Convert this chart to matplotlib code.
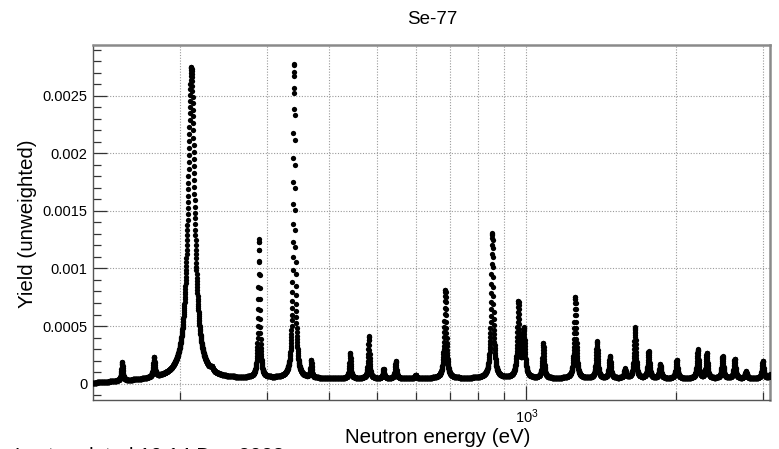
import numpy as np
import matplotlib
matplotlib.use("Agg")
import matplotlib.pyplot as plt
from matplotlib.ticker import FixedLocator, NullFormatter, FixedFormatter, MultipleLocator

plt.rcParams['font.family'] = ['Liberation Sans', 'DejaVu Sans']
plt.rcParams['mathtext.fontset'] = 'custom'
plt.rcParams['mathtext.rm'] = 'Liberation Sans'
plt.rcParams['mathtext.it'] = 'Liberation Sans'

title = "Se-77"
x_label = "Neutron energy (eV)"
y_label = "Yield (unweighted)"
footer = "Last updated 10:14 Dec 2023"

# Resonances: energy (eV), peak yield, width (eV FWHM)
res_energy = [153, 177.5, 211, 232, 289, 340, 368, 441, 481, 515, 545, 598,
              686, 853, 963, 988, 1081, 1254, 1387, 1473, 1580, 1655, 1763,
              1860, 2008, 2215, 2309, 2485, 2628, 2770, 2995, 3120]
res_height = [0.00016, 0.00017, 0.00271, 0.00003, 0.00120, 0.00273, 0.00015,
              0.00022, 0.00037, 0.00008, 0.00015, 0.00003,
              0.00077, 0.00126, 0.00065, 0.00041, 0.00030, 0.00071, 0.00032,
              0.00019, 0.00008, 0.00044, 0.00023,
              0.00012, 0.00016, 0.00025, 0.00022, 0.00019, 0.00017, 0.00006,
              0.00015, 0.00012]
res_width = [1.2, 1.6, 7.5, 3.0, 2.5, 3.5, 2.5, 3.2, 3.5, 3.5, 4.0, 4.0,
             7.5, 10.0, 11.0, 12.0, 10.0, 13.0, 13.0, 14.0, 14.0, 16.0, 17.0,
             18.0, 19.0, 21.0, 21.0, 23.0, 24.0, 25.0, 27.0, 28.0]
background_level = 0.000045
background_rise = 50.0   # eV over which the background builds up from the left edge

e_min, e_max = 133.5, 3097.0
n_points = 5000

y_ticks = [0, 0.0005, 0.001, 0.0015, 0.002, 0.0025]
y_tick_labels = ["0", "0.0005", "0.001", "0.0015", "0.002", "0.0025"]
x_major = [1000]
x_major_labels = [r"$10^{3}$"]
x_minor = [200, 300, 400, 500, 600, 700, 800, 900, 2000, 3000]

energy = np.geomspace(e_min, e_max, n_points)
yld = background_level * (1 - np.exp(-(energy - e_min) / background_rise))
for e0, h, w in zip(res_energy, res_height, res_width):
    gam = w / 2.0
    yld = yld + h * gam ** 2 / ((energy - e0) ** 2 + gam ** 2)

W, H = 779, 449
fig = plt.figure(figsize=(W / 100, H / 100), dpi=100)
L, R, T, B = 92.7, 770.0, 44.7, 400.0
ax = fig.add_axes([L / W, 1 - B / H, (R - L) / W, (B - T) / H])

ax.plot(energy, yld, linestyle='none', marker='o', ms=3.8, mew=0,
        color='black', zorder=3)

ax.set_xscale('log')
ax.set_xlim(e_min, e_max)
ax.set_ylim(-0.000142, 0.002942)

ax.xaxis.set_major_locator(FixedLocator(x_major))
ax.xaxis.set_major_formatter(FixedFormatter(x_major_labels))
ax.xaxis.set_minor_locator(FixedLocator(x_minor))
ax.xaxis.set_minor_formatter(NullFormatter())
ax.yaxis.set_major_locator(FixedLocator(y_ticks))
ax.yaxis.set_major_formatter(FixedFormatter(y_tick_labels))
ax.yaxis.set_minor_locator(MultipleLocator(0.0001))

ax.grid(which='both', axis='x', linestyle=(0, (1, 1.5)), color='#9a9a9a', lw=0.8)
ax.grid(which='major', axis='y', linestyle=(0, (1, 1.5)), color='#9a9a9a', lw=0.8)
ax.set_axisbelow(True)

ax.tick_params(axis='both', which='both', direction='in', colors='#333333',
               width=0.9, labelcolor='black', top=False, right=False)
ax.tick_params(axis='y', which='major', length=10, labelsize=10.5, pad=4)
ax.tick_params(axis='y', which='minor', length=6)
ax.tick_params(axis='x', which='major', length=10, labelsize=10.5, pad=5)
ax.tick_params(axis='x', which='minor', length=6)

for side in ['left', 'bottom']:
    ax.spines[side].set_color('#555555')
    ax.spines[side].set_linewidth(1.0)
for side in ['top', 'right']:
    ax.spines[side].set_color('#8a8a8a')
    ax.spines[side].set_linewidth(1.8)

fig.text(432 / W, 1 - 24 / H, title, ha='center', va='baseline', fontsize=13.5)
fig.text(437.5 / W, 1 - 443 / H, x_label, ha='center', va='baseline', fontsize=14.8)
fig.text(28 / W, 1 - 224 / H, y_label, ha='center', va='center', rotation=90,
         fontsize=14.8)
fig.text(15 / W, 1 - 462 / H, footer, ha='left', va='baseline', fontsize=14.8)

fig.savefig("out.png", dpi=100)
